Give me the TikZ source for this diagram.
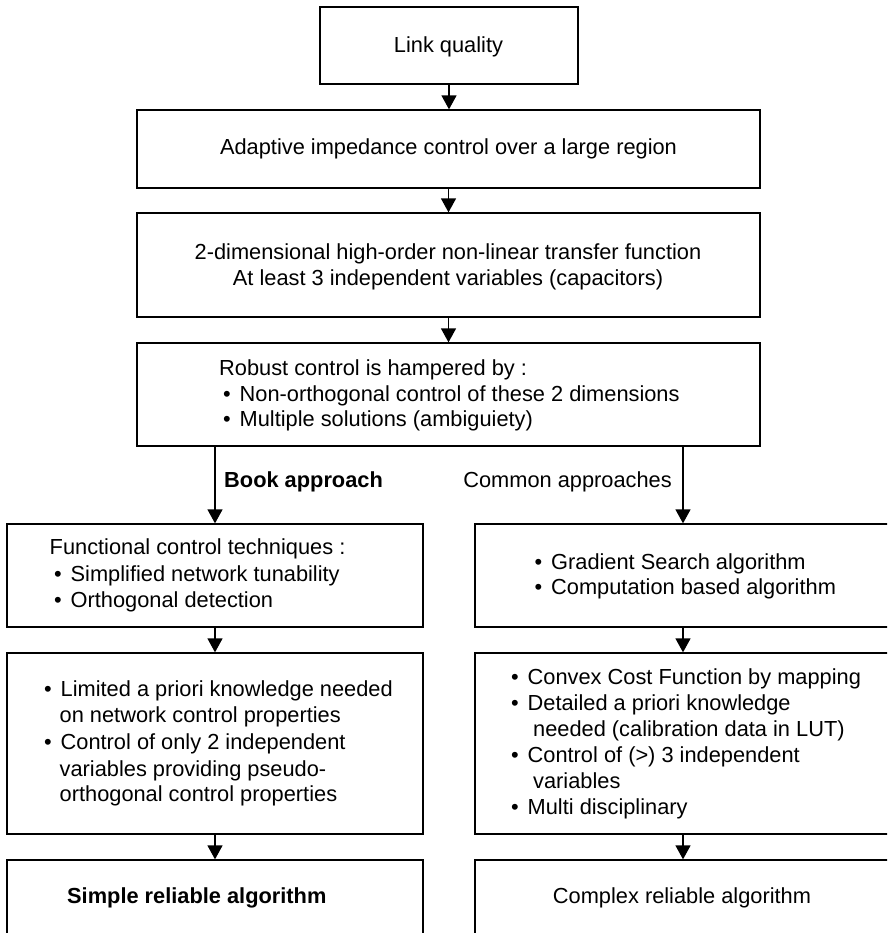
\documentclass[tikz,border=0pt]{standalone}
\usepackage{fontspec}
\setmainfont{Liberation Sans}
\usetikzlibrary{arrows.meta}
\newcommand{\bul}{\makebox[16.5pt][l]{•}}
\tikzset{
  box/.style={draw, line width=1.3pt, rectangle, inner sep=0pt},
  arr/.style={line width=1.4pt, -{Triangle[length=14pt,width=15pt]}},
  txt/.style={inner sep=0pt, anchor=base west},
  ctxt/.style={inner sep=0pt, anchor=base},
  every node/.append style={font=\fontsize{21.8pt}{26pt}\selectfont}
}
\begin{document}
\begin{tikzpicture}[x=1pt,y=-1pt]
\useasboundingbox (0,0) rectangle (887,933);
\clip (0,0) rectangle (887,933);
% boxes
\node[box, minimum width=258pt, minimum height=77pt] (b1) at (449,45.5) {};
\node[box, minimum width=623pt, minimum height=78pt] (b2) at (448.5,149) {};
\node[box, minimum width=623pt, minimum height=104pt] (b3) at (448.5,265) {};
\node[box, minimum width=623pt, minimum height=103pt] (b4) at (448.5,394.5) {};
\node[box, minimum width=416pt, minimum height=103pt] (b5l) at (215,575.5) {};
\node[box, minimum width=416pt, minimum height=103pt] (b5r) at (683,575.5) {};
\node[box, minimum width=416pt, minimum height=181pt] (b6l) at (215,743.5) {};
\node[box, minimum width=416pt, minimum height=181pt] (b6r) at (683,743.5) {};
\node[box, minimum width=416pt, minimum height=90pt] (b7l) at (215,905) {};
\node[box, minimum width=416pt, minimum height=90pt] (b7r) at (683,905) {};
% arrows
\draw[arr] (b1.south) -- (b1.south |- b2.north);
\draw[arr] (b2.south) -- (b3.north);
\draw[arr] (b3.south) -- (b4.north);
\draw[arr] (b4.south -| b5l.north) -- (b5l.north);
\draw[arr] (b4.south -| b5r.north) -- (b5r.north);
\draw[arr] (b5l.south) -- (b6l.north);
\draw[arr] (b5r.south) -- (b6r.north);
\draw[arr] (b6l.south) -- (b7l.north);
\draw[arr] (b6r.south) -- (b7r.north);
% texts
\node[ctxt] (t1) at (448.5,52.7) {Link quality};
\node[ctxt] (t2) at (448.5,155) {Adaptive impedance control over a large region};
\node[ctxt] (t3a) at (448,259) {2-dimensional high-order non-linear transfer function};
\node[ctxt] (t3b) at (448,285) {At least 3 independent variables (capacitors)};
\node[txt] (t4a) at (219,375) {Robust control is hampered by :};
\node[txt] (t4b) at (223,401) {\bul Non-orthogonal control of these 2 dimensions};
\node[txt] (t4c) at (223,426.7) {\bul Multiple solutions (ambiguiety)};
\node[txt, font=\fontsize{21.8pt}{26pt}\selectfont\bfseries] (lb) at (224,487.7) {Book approach};
\node[inner sep=0pt, anchor=base east] (lc) at (672,487.7) {Common approaches};
\node[txt] (t5a) at (49.5,554) {Functional control techniques :};
\node[txt] (t5b) at (54,581.3) {\bul Simplified network tunability};
\node[txt] (t5c) at (54,607.7) {\bul Orthogonal detection};
\node[txt] (t5d) at (534.5,569.3) {\bul Gradient Search algorithm};
\node[txt] (t5e) at (534.5,594.7) {\bul Computation based algorithm};
\node[txt] (t6a) at (44,696.7) {\bul Limited a priori knowledge needed};
\node[txt] (t6b) at (59.5,722.7) {on network control properties};
\node[txt] (t6c) at (44,749.3) {\bul Control of only 2 independent};
\node[txt] (t6d) at (59.5,776) {variables providing pseudo-};
\node[txt] (t6e) at (59.5,801.7) {orthogonal control properties};
\node[txt] (t6f) at (511,684.3) {\bul Convex Cost Function by mapping};
\node[txt] (t6g) at (511,710) {\bul Detailed a priori knowledge};
\node[txt] (t6h) at (533,736.7) {needed (calibration data in LUT)};
\node[txt] (t6i) at (511,762.7) {\bul Control of (>) 3 independent};
\node[txt] (t6j) at (533,788.7) {variables};
\node[txt] (t6k) at (511,814.3) {\bul Multi disciplinary};
\node[txt, font=\fontsize{21.8pt}{26pt}\selectfont\bfseries] (t7a) at (67,903.7) {Simple reliable algorithm};
\node[ctxt] (t7b) at (682,903.7) {Complex reliable algorithm};
\end{tikzpicture}
\end{document}
